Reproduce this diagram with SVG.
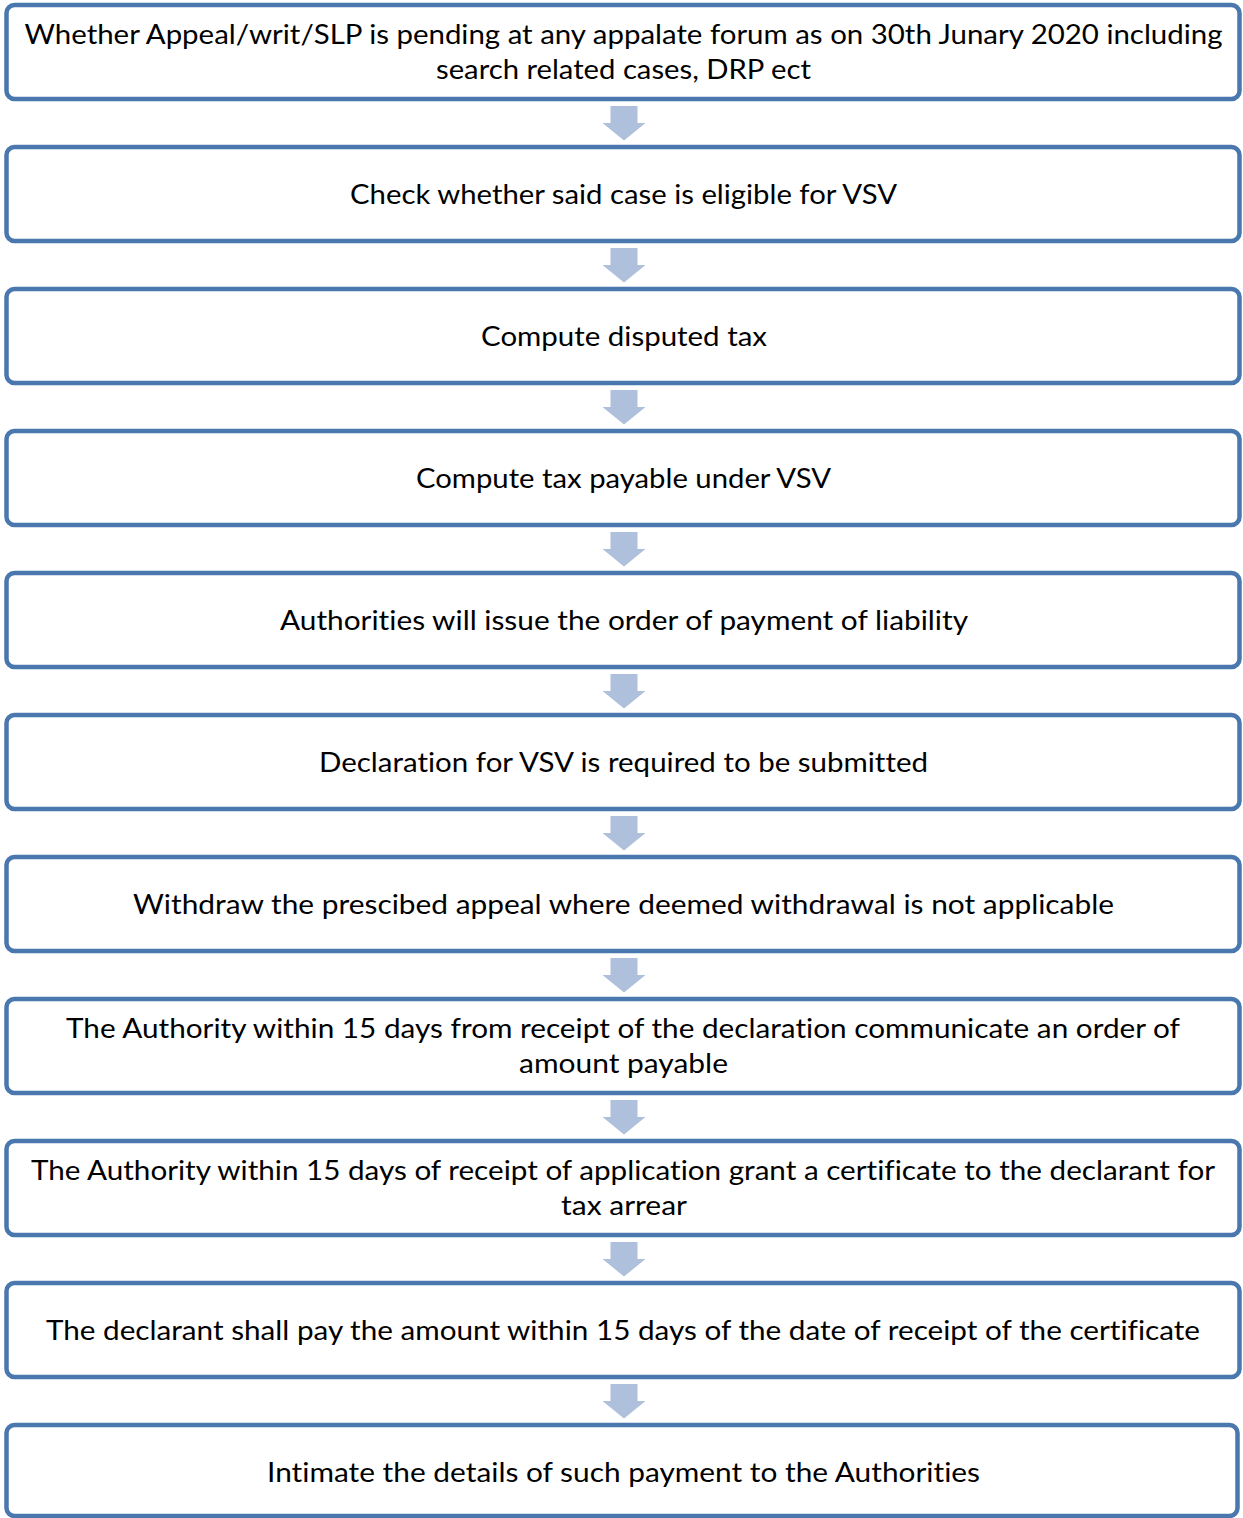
<svg xmlns="http://www.w3.org/2000/svg" width="1243" height="1518" viewBox="0 0 1243 1518">
<defs>
<style>
.box{fill:#fff;stroke:#4A77AE;stroke-width:4.5}
.t{font-family:Lato,"Open Sans","Liberation Sans",sans-serif;font-size:27px;fill:#000;text-anchor:middle;font-variant-ligatures:none;font-feature-settings:"liga" 0}
.arr{fill:#AFC0DC}
</style>
<path id="ar" d="M610.5 0 H637.5 V17 H645.5 L624 34.5 L602.5 17 H610.5 Z"/>
</defs>
<rect width="1243" height="1518" fill="#fff"/>
<g id="connectors" class="arr">
<use href="#ar" y="106"/>
<use href="#ar" y="248"/>
<use href="#ar" y="390"/>
<use href="#ar" y="532"/>
<use href="#ar" y="674"/>
<use href="#ar" y="816"/>
<use href="#ar" y="958"/>
<use href="#ar" y="1100"/>
<use href="#ar" y="1242"/>
<use href="#ar" y="1384"/>
</g>
<g id="n1"><rect class="box" x="6.5" y="5" width="1233" height="94" rx="8"/>
<text class="t" x="623.5" y="44" textLength="1198" lengthAdjust="spacingAndGlyphs">Whether Appeal/writ/SLP is pending at any appalate forum as on 30th Junary 2020 including</text>
<text class="t" x="623.5" y="79" textLength="375" lengthAdjust="spacingAndGlyphs">search related cases, DRP ect</text></g>
<g id="n2"><rect class="box" x="6.5" y="147" width="1233" height="94" rx="8"/>
<text class="t" x="623.5" y="204" textLength="547" lengthAdjust="spacingAndGlyphs">Check whether said case is eligible for VSV</text></g>
<g id="n3"><rect class="box" x="6.5" y="289" width="1233" height="94" rx="8"/>
<text class="t" x="624" y="346" textLength="286" lengthAdjust="spacingAndGlyphs">Compute disputed tax</text></g>
<g id="n4"><rect class="box" x="6.5" y="431" width="1233" height="94" rx="8"/>
<text class="t" x="623.5" y="488" textLength="415" lengthAdjust="spacingAndGlyphs">Compute tax payable under VSV</text></g>
<g id="n5"><rect class="box" x="6.5" y="573" width="1233" height="94" rx="8"/>
<text class="t" x="624" y="630" textLength="688" lengthAdjust="spacingAndGlyphs">Authorities will issue the order of payment of liability</text></g>
<g id="n6"><rect class="box" x="6.5" y="715" width="1233" height="94" rx="8"/>
<text class="t" x="623.5" y="772" textLength="609" lengthAdjust="spacingAndGlyphs">Declaration for VSV is required to be submitted</text></g>
<g id="n7"><rect class="box" x="6.5" y="857" width="1233" height="94" rx="8"/>
<text class="t" x="623.5" y="914" textLength="981" lengthAdjust="spacingAndGlyphs">Withdraw the prescibed appeal where deemed withdrawal is not applicable</text></g>
<g id="n8"><rect class="box" x="6.5" y="999" width="1233" height="94" rx="8"/>
<text class="t" x="623" y="1038" textLength="1114" lengthAdjust="spacingAndGlyphs">The Authority within 15 days from receipt of the declaration communicate an order of</text>
<text class="t" x="623.5" y="1073" textLength="209" lengthAdjust="spacingAndGlyphs">amount payable</text></g>
<g id="n9"><rect class="box" x="6.5" y="1141" width="1233" height="94" rx="8"/>
<text class="t" x="623" y="1180" textLength="1184" lengthAdjust="spacingAndGlyphs">The Authority within 15 days of receipt of application grant a certificate to the declarant for</text>
<text class="t" x="624" y="1215" textLength="126" lengthAdjust="spacingAndGlyphs">tax arrear</text></g>
<g id="n10"><rect class="box" x="6.5" y="1283" width="1233" height="94" rx="8"/>
<text class="t" x="623" y="1340" textLength="1154" lengthAdjust="spacingAndGlyphs">The declarant shall pay the amount within 15 days of the date of receipt of the certificate</text></g>
<g id="n11"><rect class="box" x="6.5" y="1425" width="1231" height="91" rx="8"/>
<text class="t" x="623.5" y="1482" textLength="713" lengthAdjust="spacingAndGlyphs">Intimate the details of such payment to the Authorities</text></g>
</svg>
